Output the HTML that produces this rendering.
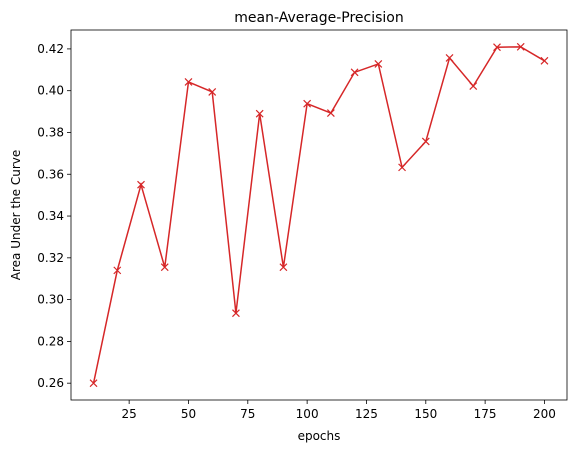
<!DOCTYPE html>
<html><head><meta charset="utf-8"><style>
body{margin:0;background:#fff;}
svg{display:block;font-family:"DejaVu Sans","Liberation Sans",sans-serif;}
</style></head><body>
<svg id="chart" width="576" height="453">
<rect width="576" height="453" fill="#fff"/>
<text x="319" y="22" text-anchor="middle" font-size="14">mean-Average-Precision</text>
<g id="grid"></g>
<text x="319" y="440" text-anchor="middle" font-size="12">epochs</text>
<text transform="translate(20,215) rotate(-90)" text-anchor="middle" font-size="12">Area Under the Curve</text>
</svg>
<script>
const epochs=[10,20,30,40,50,60,70,80,90,100,110,120,130,140,150,160,170,180,190,200];
const mapValues=[0.260,0.314,0.355,0.3155,0.4042,0.3994,0.2935,0.389,0.3155,0.3938,0.3893,0.4088,0.4128,0.3633,0.3757,0.4157,0.4022,0.4208,0.421,0.4143];
const xTicks=[25,50,75,100,125,150,175,200];
const yTicks=[0.26,0.28,0.30,0.32,0.34,0.36,0.38,0.40,0.42];
const L=71,R=567,T=30,B=400;
const xmin=0.5,xmax=209.5,ymin=0.25195,ymax=0.42905;
const sx=v=>L+(v-xmin)/(xmax-xmin)*(R-L);
const sy=v=>B-(v-ymin)/(ymax-ymin)*(B-T);
const svg=document.getElementById('chart');
const ns='http://www.w3.org/2000/svg';
function mk(t,a){const e=document.createElementNS(ns,t);for(const k in a)e.setAttribute(k,a[k]);svg.appendChild(e);return e;}
xTicks.forEach(v=>{
 const x=sx(v);
 const t=mk('line',{x1:x,x2:x,y1:B,y2:B+4,stroke:'#000','stroke-width':0.8});
 
 
 const l=mk('text',{x:x,y:B+18,'text-anchor':'middle','font-size':12});l.textContent=v;
 
 
});
yTicks.forEach(v=>{
 const y=sy(v);
 const t=mk('line',{x1:L-4,x2:L,y1:y,y2:y,stroke:'#000','stroke-width':0.8});
 
 
 const l=mk('text',{x:L-7,y:y+4,'text-anchor':'end','font-size':12});l.textContent=v.toFixed(2);
 
 
});
const pts=epochs.map((e,i)=>sx(e)+','+sy(mapValues[i])).join(' ');
const line=mk('polyline',{points:pts,fill:'none',stroke:'#d62728','stroke-width':1.5});


epochs.forEach((e,i)=>{
 const x=sx(e),y=sy(mapValues[i]),s=3.5;
 const m=mk('path',{d:`M${x-s},${y-s}L${x+s},${y+s}M${x-s},${y+s}L${x+s},${y-s}`,stroke:'#d62728','stroke-width':1.2});
 
 
});
const f=mk('rect',{x:L,y:T,width:R-L,height:B-T,fill:'none',stroke:'#000','stroke-width':0.8});


</script>
</body></html>
